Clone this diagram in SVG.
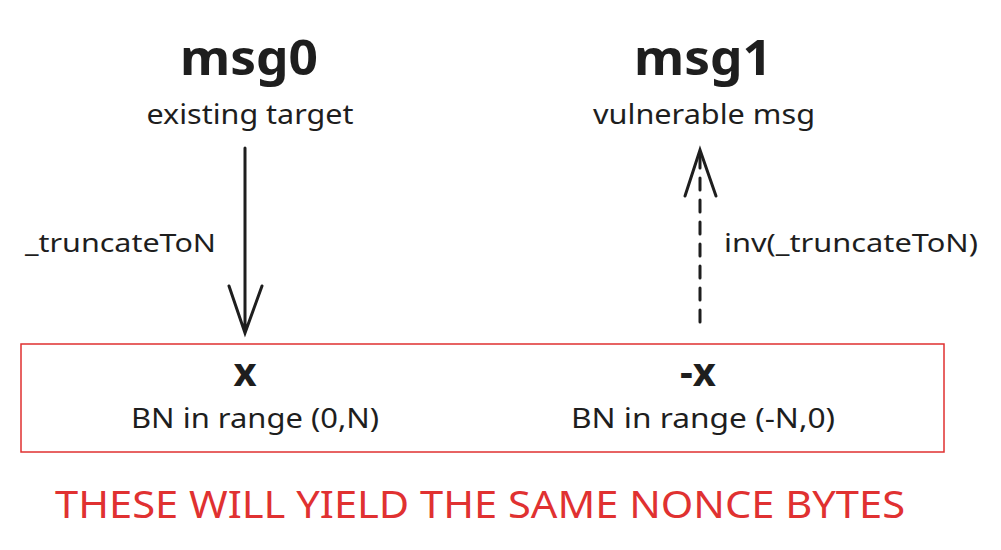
<svg xmlns="http://www.w3.org/2000/svg" width="1001" height="550" viewBox="0 0 1001 550">
<style>
text{font-family:"Noto Sans","Open Sans",sans-serif;fill:#1e1e1e;text-anchor:middle}
.t{font-size:48px;font-weight:bold}
.s{font-size:28px}
.v{font-size:40px;font-weight:bold}
.l{font-size:26px;text-anchor:start}
.ln{stroke:#1e1e1e;stroke-width:3;fill:none;stroke-linecap:round}
</style>
<rect width="1001" height="550" fill="#fff"/>
<g id="msg0"><text class="t" x="249" y="75" textLength="138" lengthAdjust="spacingAndGlyphs">msg0</text><text class="s" x="250" y="124" textLength="207" lengthAdjust="spacingAndGlyphs">existing target</text></g>
<g id="msg1"><text class="t" x="703" y="75" textLength="138" lengthAdjust="spacingAndGlyphs">msg1</text><text class="s" x="704" y="124" textLength="222" lengthAdjust="spacingAndGlyphs">vulnerable msg</text></g>
<g id="range">
<rect x="21" y="344" width="923" height="108" fill="none" stroke="#e03131" stroke-width="1.5"/>
<text class="v" x="245" y="386">x</text><text class="s" x="255" y="428" textLength="248" lengthAdjust="spacingAndGlyphs">BN in range (0,N)</text>
<text class="v" x="698" y="386">-x</text><text class="s" x="703" y="428" textLength="264" lengthAdjust="spacingAndGlyphs">BN in range (-N,0)</text>
</g>
<g id="connectors">
<path class="ln" d="M245 148V333M229 286L245 333L262 286"/>
<path class="ln" d="M700 322V150" stroke-dasharray="12 10"/>
<path class="ln" d="M685 196L700 150L716 196"/>
<text class="l" x="25" y="252" textLength="191" lengthAdjust="spacingAndGlyphs">_truncateToN</text>
<text class="l" x="724" y="252" textLength="254" lengthAdjust="spacingAndGlyphs">inv(_truncateToN)</text>
</g>
<text x="480" y="518" textLength="850" lengthAdjust="spacingAndGlyphs" style="font-size:38px;fill:#e03131">THESE WILL YIELD THE SAME NONCE BYTES</text>
</svg>
